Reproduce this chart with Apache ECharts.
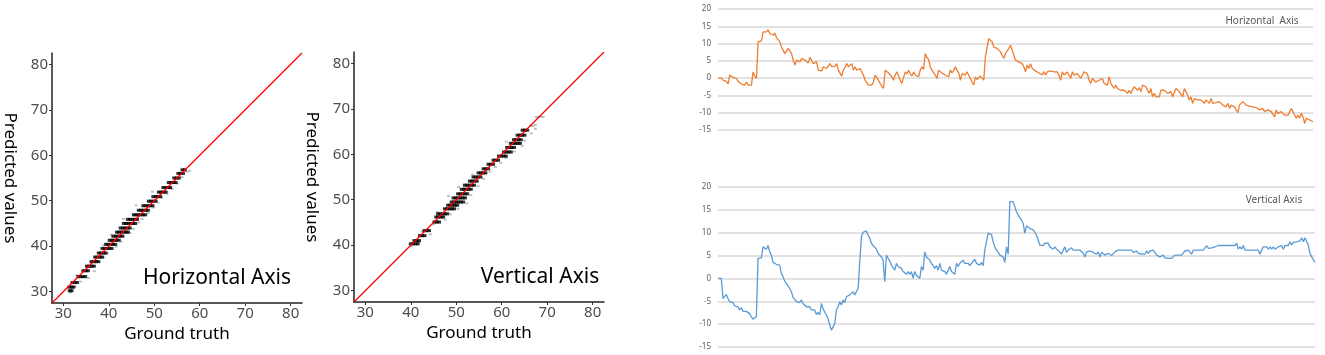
<!DOCTYPE html>
<html style='height: 100%'>
<head>
    <meta charset='utf-8'>
</head>
<body style='height: 100%; margin: 0; background: #fff'>
    <div id='container' style='width: 1325px; height: 355px'></div>
    <script src="https://cdn.jsdelivr.net/npm/echarts@6/dist/echarts.min.js"></script>
    <script type="text/javascript">

var dom = document.getElementById("container");
var myChart = echarts.init(dom);

// scatter panels: each row = [predicted value, ground truth values]
var scatterTicks = [30, 40, 50, 60, 70, 80];
var identityLine = [[27.5, 27.5], [82.5, 82.5]];

var hRows = [
    [30.2, [31.4, 31.8]],
    [31.0, [31.3, 31.8, 32.2]],
    [32.0, [32.0, 32.5, 33.0]],
    [33.3, [33.3, 33.8, 34.3, 34.8]],
    [34.6, [34.4, 34.9, 35.4]],
    [35.6, [35.2, 35.7, 36.2, 36.7]],
    [36.6, [36.2, 36.7, 37.2, 37.7]],
    [37.6, [37.0, 37.5, 38.0, 38.5]],
    [38.5, [37.8, 38.3, 38.8, 39.3]],
    [39.5, [38.6, 39.1, 39.6, 40.1, 40.6]],
    [40.4, [39.4, 39.9, 40.4, 40.9, 41.4]],
    [41.3, [40.2, 40.7, 41.2, 41.7, 42.2]],
    [42.2, [41.0, 41.5, 42.0, 42.5, 43.0]],
    [43.1, [41.8, 42.3, 42.8, 43.3, 43.8, 44.2]],
    [44.0, [42.6, 43.1, 43.6, 44.1, 44.6]],
    [45.0, [43.3, 43.8, 44.3, 44.8, 45.3, 45.8]],
    [45.9, [44.2, 44.7, 45.2, 45.7, 46.2]],
    [46.9, [45.5, 46.0, 46.5, 47.0, 47.5, 48.0]],
    [47.9, [46.6, 47.1, 47.6, 48.1, 48.6]],
    [48.9, [47.6, 48.1, 48.6, 49.1, 49.6]],
    [49.9, [48.8, 49.3, 49.8, 50.3]],
    [50.9, [49.8, 50.3, 50.8, 51.3]],
    [51.9, [51.0, 51.5, 52.0, 52.5]],
    [52.9, [52.0, 52.5, 53.0, 53.5]],
    [54.0, [53.2, 53.7, 54.2, 54.7]],
    [55.0, [54.4, 54.9, 55.4]],
    [56.0, [55.3, 55.8, 56.3]],
    [56.8, [56.2, 56.7]]
];
var hFringe = [[31.5,29.8],[32.6,31.1],[33.8,32.2],[35.5,33.0],[36.8,34.5],[33.0,33.6],[38.9,37.5],[39.6,38.4],
    [41.6,39.9],[42.7,41.0],[38.8,40.2],[44.6,42.9],[45.4,43.8],[40.5,42.5],[46.6,45.2],[47.3,46.0],[48.6,47.3],
    [43.2,46.0],[49.8,48.5],[50.8,49.6],[46.0,49.0],[51.6,50.7],[52.8,51.5],[49.6,52.0],[53.9,52.6],[55.1,53.8],
    [56.1,55.2],[57.2,56.4],[57.8,56.6]];

var vRows = [
    [40.3, [40.0, 40.5, 41.0, 41.5]],
    [41.0, [40.8, 41.3, 41.8]],
    [42.1, [42.0, 42.5, 43.0]],
    [43.2, [43.0, 43.5, 44.0]],
    [45.1, [45.2, 45.7, 46.2]],
    [46.2, [45.6, 46.1, 46.6, 47.1]],
    [46.9, [46.0, 46.5, 47.0, 47.5, 48.0]],
    [48.0, [47.5, 48.0, 48.5, 49.0, 49.5]],
    [48.8, [48.2, 48.7, 49.2, 49.7, 50.2]],
    [49.5, [49.0, 49.5, 50.0, 50.5, 51.0, 51.5]],
    [50.4, [49.4, 49.9, 50.4, 50.9, 51.4, 51.9]],
    [51.3, [50.4, 50.9, 51.4, 51.9, 52.4]],
    [52.3, [51.2, 51.7, 52.2, 52.7, 53.2]],
    [53.2, [51.9, 52.4, 52.9, 53.4, 53.9]],
    [54.1, [53.0, 53.5, 54.0, 54.5]],
    [55.0, [53.8, 54.3, 54.8, 55.3]],
    [55.9, [54.9, 55.4, 55.9, 56.4]],
    [56.8, [56.0, 56.5, 57.0]],
    [57.8, [57.1, 57.6, 58.1]],
    [58.7, [58.2, 58.7, 59.2]],
    [59.6, [59.4, 59.9, 60.4, 60.9]],
    [60.5, [60.5, 61.0, 61.5, 62.0]],
    [61.5, [61.2, 61.7, 62.2, 62.7]],
    [62.4, [62.0, 62.5, 63.0, 63.5, 64.0]],
    [63.2, [62.7, 63.2, 63.7, 64.2]],
    [64.2, [63.5, 64.0, 64.5, 65.0]],
    [65.3, [64.6, 65.1, 65.6]]
];
var vFringe = [[40.1,39.7],[41.8,40.6],[44.3,42.4],[42.5,43.0],[45.0,44.6],[47.5,45.6],[48.7,46.8],[45.8,47.3],
    [50.4,48.0],[52.3,49.2],[48.3,50.8],[53.2,51.0],[50.5,52.8],[54.8,53.0],[56.0,54.6],[53.6,55.5],[57.4,56.2],
    [58.6,57.2],[59.8,58.1],[61.0,59.2],[62.8,60.6],[64.5,61.8],[61.0,62.8],[65.0,63.0],[66.5,64.6],[67.4,65.6],
    [66.4,66.3],[66.9,66.2],[67.4,66.5],[67.6,68.2],[68.1,68.2],[68.6,68.3],[69.1,68.2]];

// time series on the right
var horizontalSeries = [
    0,0,0,-0.6,-0.8,-0.9,-1.7,0.9,0.6,0.2,0,-0.1,-0.9,-0.4,-1.7,-2,-2,-1.1,-2,-1.5,-2,1.8,0.6,-0.1,
    10.5,10.6,10.8,13.4,13.4,13.4,14,12.9,13.4,12.4,13.1,11.7,12.1,10.5,9,8.6,7.1,7.3,8.6,7.9,7.1,
    5.2,3.8,5.2,5.2,4.7,5.7,5.7,5.2,5.4,4.4,6,5.2,4.2,3.8,4.7,2.3,2.1,2.1,3.3,3.5,2.8,3.1,4.2,3.3,3.8,
    3.5,4.2,2.3,1.8,0.6,2.3,1.8,4.2,3.3,2.8,4.2,2.3,3.3,2.3,2.1,2.8,1.8,0.9,-0.6,-1.1,-2,-2.5,-2,-1.1,
    0.9,0.4,-0.6,-1.5,-2,-3,2.3,2.1,1.5,1.8,0.4,-0.6,0.9,1.8,1.3,-0.6,-1.5,-2,1.8,1.2,2.3,1.3,0.6,1.8,
    0.9,0.9,0.4,2.3,3.3,2.5,7.1,6,5.4,3.3,2.3,1.8,0.9,-0.1,2.3,1.8,1.5,1.3,0.9,1.2,0.4,2.3,1.5,2.1,3.3,
    2.3,1.5,-0.6,1.3,1.8,0.9,1.8,1.8,-0.1,-1.1,-2,0.4,-0.4,-0.8,0.6,0.2,-0.6,6.2,6.6,11.4,
    11,10.5,9,8.8,8.6,8.1,7.6,6.6,5.7,7.1,6.6,8.6,9.5,8.1,6.6,5.2,5,4.7,4.7,4.2,3.3,1.8,3.8,2.8,4.2,2.8,
    2.3,2.1,1.8,1.5,1.3,0.9,1.8,0.9,1.8,2,2.1,1.9,1.8,1.8,1.8,0.9,-0.6,1.8,0.9,0.4,1.8,2.3,-0.1,1.8,0.9,
    0.4,1.3,0.9,-0.1,0.9,1.8,2.3,1.3,-0.6,-1.5,-0.1,0.4,-1.1,-1.1,-0.6,-1.1,-0.1,-1.5,-1.1,-2,0.4,-1.5,
    -2,-3,-2,-3,-3.3,-3.5,-3.5,-3.5,-3.9,-4.4,-3.5,-4.4,-3.9,-2.5,-3,-3.5,-2.7,-3.9,-2,-2.5,-2.5,-3.5,
    -4.4,-3,-5.4,-4.4,-5.4,-4.9,-5.4,-3.5,-3,-3.5,-3,-4.4,-4.4,-3.9,-5.4,-4.9,-3,-3,-3.9,-3.5,-5.4,-3,
    -3.9,-4.9,-6.3,-5.4,-7.3,-5.9,-5.9,-6.3,-6.8,-6.3,-5.9,-7.3,-6.3,-6.8,-7.3,-5.9,-7.3,-6.8,-7.1,-7.3,
    -6.8,-6.3,-7.8,-7.3,-8.3,-7.3,-8.8,-7.8,-8.1,-8.3,-8.8,-10,-7.8,-8.3,-6.8,-7.3,-7.8,-8.3,-8.1,-8.1,
    -8.3,-8.3,-8.5,-8.8,-9.1,-9.2,-8.8,-9.7,-9.4,-9.2,-9.4,-9.7,-10.2,-11.2,-9.2,-10.2,-10.2,-9.7,-10.2,
    -10.7,-10.7,-10.7,-11.2,-8.8,-9.7,-10.2,-11.6,-10.7,-11.6,-10.2,-11.2,-13.1,-11.6,-11.2,-12.1,-12.6,-12.6
];
var verticalSeries = [
    0,0,0,-4.4,-4.5,-3.5,-4.4,-5.1,-5.3,-5.3,-6,-6.2,-6.2,-6.9,-6.4,-7.2,-6.9,-7.2,-7.2,-7.7,-8.4,-8.9,
    -8.8,-8.4,4.4,4.4,4.5,6.9,7.2,6.4,7.2,5.8,5.1,3.5,3.5,3.1,2.8,2.9,1.1,0.4,-0.6,-0.9,-1.6,-2.2,-2.9,
    -4.2,-4.4,-5,-5.3,-5.3,-4.7,-5.5,-5.7,-6.2,-6.6,-6.2,-6.9,-7.3,-6.9,-7.9,-7.4,-8,-5.5,-6.6,-7.4,-8,
    -8.8,-10.2,-11.3,-10.6,-9.9,-6.9,-6.2,-5.1,-5.8,-4.7,-5.3,-4,-4.4,-3.6,-4,-2.9,-3.6,-3.3,-2.2,-2.6,
    9.1,10.1,9.9,10.4,9.5,8.8,7.7,7.2,6.9,6.4,5.5,5.8,4.7,4,-0.7,5.1,4.4,3.8,2.9,2.6,1.8,3.3,2.6,2.6,2.2,
    1.5,1.5,0.9,1.5,0.9,1.5,0.1,1.5,0.7,0.9,0,2.6,1.8,5.8,4.7,5.1,4,3.3,2.9,2.2,2.8,1.8,3.3,1.8,2.2,1.5,
    0.9,0.9,2.6,1.5,1.5,0.9,3.3,2.6,3.3,2.9,4,3.3,3.5,3.3,2.8,3.3,3.6,4.2,3.3,3.3,2.9,3.5,2.8,6.2,6.2,9.9,
    9.9,9.6,8,6.9,6.2,5.7,5.1,5.3,4.7,3.5,6.9,5.3,16.8,16.4,16.8,15.7,14.6,13.9,13.3,12.8,12,9.9,11.5,
    11.3,10.9,11.3,10.6,10.2,9.5,8.4,7.3,7.7,7.2,7.7,7.3,7.7,6.9,6.9,6.4,6.9,6.4,6.2,5.8,5.3,6.2,6.9,5.7,
    6.2,6.2,6.7,6.2,6.2,6.2,6.2,6.2,5.8,5.5,4.7,5.8,5.5,6,6.2,5.7,6,5.3,5.8,4.7,5.7,5.5,5.1,4.7,5.5,5.8,
    5,4.7,5.8,5.8,6.2,6.2,6.2,6.2,6.2,6.2,6.2,6.2,6.2,5.7,5.3,6,5.5,5.7,5.3,5.7,5.3,6,5.5,6,6.2,6.2,5.7,
    5.1,5.1,4.7,4.7,5.1,4.5,4.4,4.4,4.4,4.4,4.5,5.1,4.7,5.1,4.7,5.1,5.5,6,6.2,6.2,6.2,5.3,6.2,6.2,6.2,
    6.2,6.2,6.2,6.2,6.6,7.2,6.6,6.2,6.7,6.4,6.9,6.6,7.2,7.2,7.2,7.2,7.2,7.2,7.2,7.2,7.2,7.2,7.2,7.7,6.4,
    6.9,6.4,7.2,6.2,6.2,6.2,6.2,6.2,6.2,6.2,6.2,6.2,5.3,6.2,6.9,6.6,6.9,6.4,6.9,6.4,6.9,6.4,6.2,6.9,7.2,
    7.2,6.4,7.2,7.2,7.2,8,7.3,7.9,8,8,8,8.2,8.9,8,8.9,8,7.3,5.5,4.7,4.4,3.5
];

function flatten(rows) {
    var out = [];
    rows.forEach(function (r) {
        r[1].forEach(function (x) { out.push([x, r[0]]); });
    });
    return out;
}
function idx(arr) {
    return arr.map(function (v, i) { return i; });
}

var font = 'Noto Sans';

function scatterX(gi) {
    return {
        gridIndex: gi, type: 'value', min: 27.5, max: 82.5,
        name: 'Ground truth', nameLocation: 'middle', nameGap: 19,
        nameTextStyle: { fontSize: 17, color: '#000', fontFamily: font },
        axisLine: { lineStyle: { color: '#222', width: 1.5 } },
        axisTick: { show: true, length: 3, customValues: scatterTicks, lineStyle: { color: '#333' } },
        axisLabel: { customValues: scatterTicks, fontSize: 15, color: '#4d4d4d', fontFamily: font, margin: 3 },
        splitLine: { show: false }
    };
}
function scatterY(gi) {
    return {
        gridIndex: gi, type: 'value', min: 27.5, max: 82.5,
        name: 'Predicted values', nameLocation: 'middle', nameGap: 34, nameRotate: -90,
        nameTextStyle: { fontSize: 17, color: '#000', fontFamily: font },
        axisLine: { lineStyle: { color: '#222', width: 1.5 } },
        axisTick: { show: true, length: 3, customValues: scatterTicks, lineStyle: { color: '#333' } },
        axisLabel: { customValues: scatterTicks, fontSize: 15, color: '#4d4d4d', fontFamily: font, margin: 4 },
        splitLine: { show: false }
    };
}
function lineX(gi, data) {
    return { gridIndex: gi, type: 'category', data: idx(data), boundaryGap: false, show: false };
}
function lineY(gi) {
    return {
        gridIndex: gi, type: 'value', min: -15, max: 20, interval: 5,
        axisLine: { show: false }, axisTick: { show: false },
        axisLabel: { fontSize: 8, color: '#595959', fontFamily: font, margin: 7 },
        splitLine: { lineStyle: { color: '#d9d9d9', width: 1.5 } }
    };
}

option = {
    animation: false,
    backgroundColor: '#fff',
    grid: [
        { left: 52, top: 53, width: 250, height: 250 },
        { left: 354, top: 52, width: 250, height: 250 },
        { left: 718, right: 12, top: 9, height: 121 },
        { left: 718, right: 10, top: 187, height: 160 }
    ],
    xAxis: [scatterX(0), scatterX(1), lineX(2, horizontalSeries), lineX(3, verticalSeries)],
    yAxis: [scatterY(0), scatterY(1), lineY(2), lineY(3)],
    graphic: [
        { type: 'text', x: 217, y: 278, style: { text: 'Horizontal Axis', font: '21px "Noto Sans"', fill: '#000', textAlign: 'center', textVerticalAlign: 'middle' } },
        { type: 'text', x: 540, y: 277, style: { text: 'Vertical Axis', font: '21px "Noto Sans"', fill: '#000', textAlign: 'center', textVerticalAlign: 'middle' } },
        { type: 'text', x: 1262, y: 21, style: { text: 'Horizontal  Axis', font: '10px "Noto Sans"', fill: '#595959', textAlign: 'center', textVerticalAlign: 'middle' } },
        { type: 'text', x: 1274, y: 200, style: { text: 'Vertical Axis', font: '10px "Noto Sans"', fill: '#595959', textAlign: 'center', textVerticalAlign: 'middle' } }
    ],
    series: [
        { type: 'scatter', xAxisIndex: 0, yAxisIndex: 0, data: hFringe, symbol: 'rect', symbolSize: [3, 2], itemStyle: { color: 'rgba(0,0,0,0.3)' } },
        { type: 'scatter', xAxisIndex: 0, yAxisIndex: 0, data: flatten(hRows), symbol: 'rect', symbolSize: [4, 3], itemStyle: { color: '#000' } },
        { type: 'line', xAxisIndex: 0, yAxisIndex: 0, data: identityLine, symbol: 'none', lineStyle: { color: '#ff0000', width: 1.3 } },
        { type: 'scatter', xAxisIndex: 1, yAxisIndex: 1, data: vFringe, symbol: 'rect', symbolSize: [3, 2], itemStyle: { color: 'rgba(0,0,0,0.3)' } },
        { type: 'scatter', xAxisIndex: 1, yAxisIndex: 1, data: flatten(vRows), symbol: 'rect', symbolSize: [4, 3], itemStyle: { color: '#000' } },
        { type: 'line', xAxisIndex: 1, yAxisIndex: 1, data: identityLine, symbol: 'none', lineStyle: { color: '#ff0000', width: 1.3 } },
        { type: 'line', xAxisIndex: 2, yAxisIndex: 2, data: horizontalSeries, symbol: 'none', lineStyle: { color: '#ED7D31', width: 1.3 } },
        { type: 'line', xAxisIndex: 3, yAxisIndex: 3, data: verticalSeries, symbol: 'none', lineStyle: { color: '#5B9BD5', width: 1.3 } }
    ]
};

if (option && typeof option === "object") {
    myChart.setOption(option, true);
}
    </script>
</body>
</html>
